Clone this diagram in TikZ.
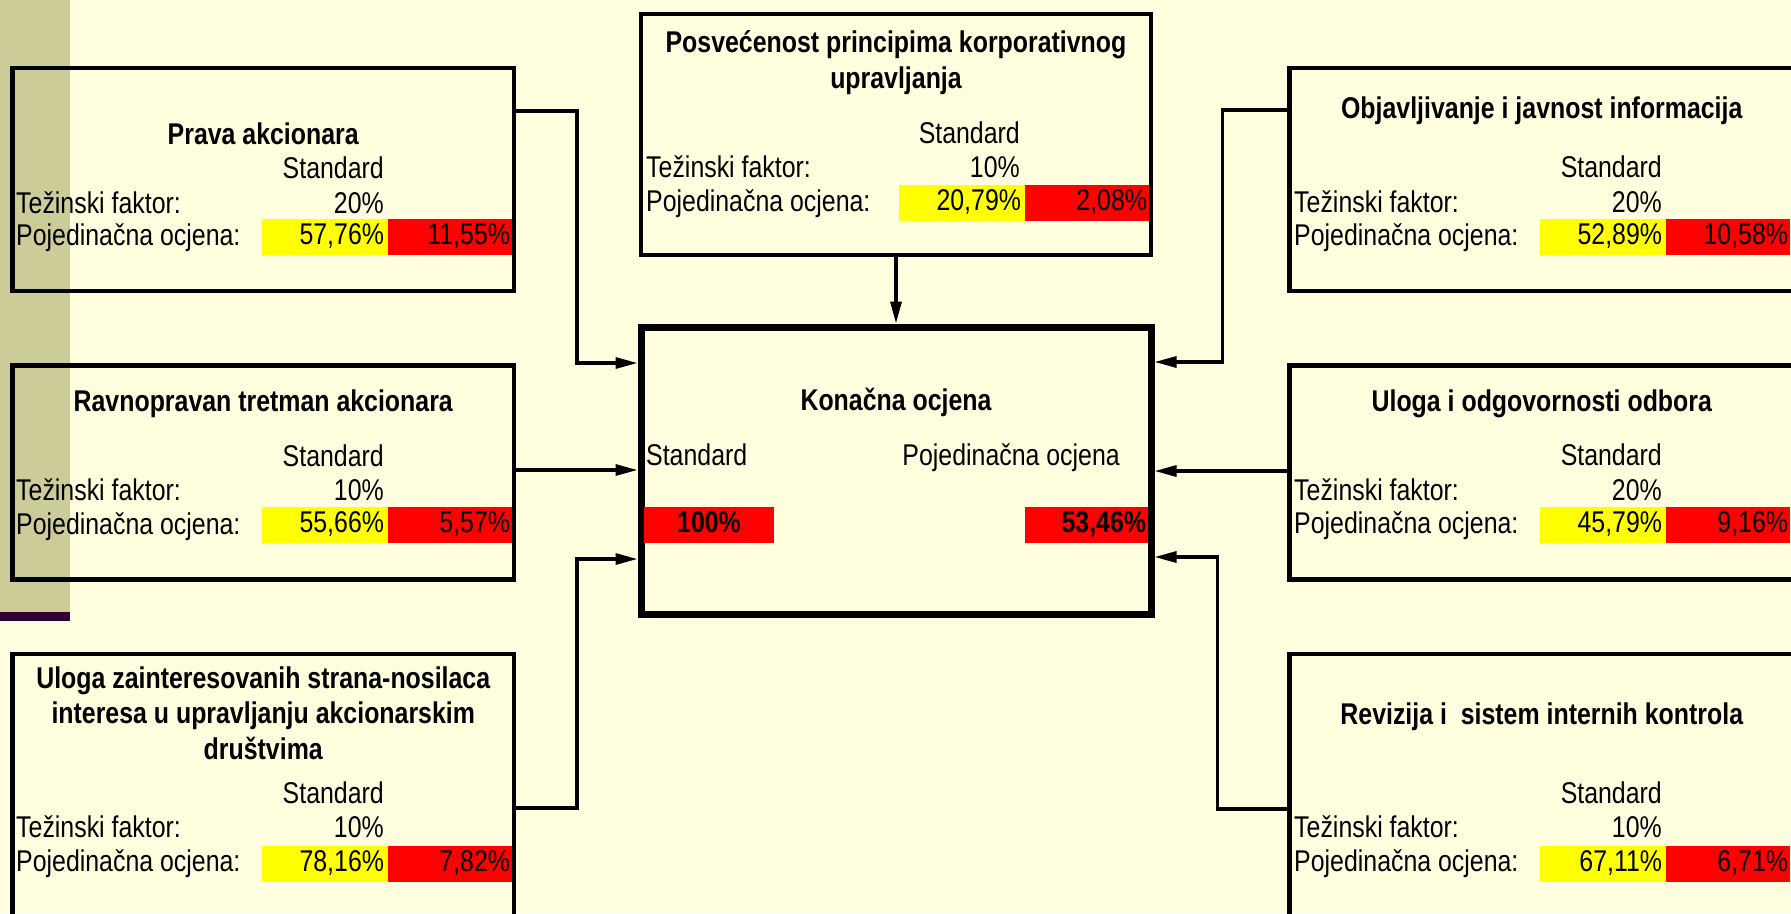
\documentclass[tikz,border=0pt]{standalone}
\usepackage{fontspec}
\setmainfont{Liberation Sans}[FakeStretch=0.83]
\definecolor{slidecream}{RGB}{255,255,224}
\definecolor{stripolive}{RGB}{204,204,153}
\definecolor{stripplum}{RGB}{51,0,51}
\definecolor{cellyellow}{RGB}{255,255,0}
\definecolor{cellred}{RGB}{255,0,0}
\usetikzlibrary{arrows.meta, positioning}

\begin{document}
\begin{tikzpicture}[
    x=1pt, y=-1pt,
    every node/.style={font=\fontsize{30}{35.5}\selectfont, inner sep=0pt},
    panel/.style={rectangle, draw, line width=4.5pt, minimum width=501.5pt},
    final/.style={rectangle, draw, line width=7pt, minimum width=510pt, minimum height=287.5pt},
    heading/.style={anchor=base, align=center, font=\fontsize{30}{35.5}\selectfont\bfseries},
    rowtext/.style={anchor=base west},
    num/.style={anchor=base east},
    yellowcell/.style={fill=cellyellow, anchor=north west, outer sep=0pt, minimum height=36pt, text width=118pt, inner xsep=4pt, align=right, text height=22pt, text depth=7pt},
    redcell/.style={yellowcell, fill=cellred, text width=120pt, inner xsep=2pt},
    arrow/.style={-{Triangle[length=22pt, width=11pt]}, line width=3.2pt}
]
    \useasboundingbox (0,0) rectangle (1791,913);
    \clip (0,0) rectangle (1791,913);

    % Slide background
    \fill[slidecream] (0,0) rectangle (1791,913);
    \fill[stripolive] (0,0) rectangle (70,612);
    \fill[stripplum] (0,612) rectangle (70,621);

    % Prava akcionara
    \node[panel, minimum height=223pt] (prava) at (263.25,179.5) {};
    \node[heading] (pravatitle) at (prava.north |- 0,144) {Prava akcionara};
    \node[num] (pravastd) at (384,178) {Standard};
    \node[rowtext] (pravaw) at (16,213) {Težinski faktor:};
    \node[num] (pravawv) at (384,213) {20\%};
    \node[rowtext] (pravap) at (16,245) {Pojedinačna ocjena:};
    \node[yellowcell] (pravay) at (262,219) {57,76\%};
    \node[redcell] (pravar) at (388,219) {11,55\%};

    % Ravnopravan tretman akcionara
    \node[panel, minimum height=214pt] (ravno) at (263.25,472.5) {};
    \node[heading] (ravnotitle) at (ravno.north |- 0,411.5) {Ravnopravan tretman akcionara};
    \node[num] (ravnostd) at (384,466.5) {Standard};
    \node[rowtext] (ravnow) at (16,500.5) {Težinski faktor:};
    \node[num] (ravnowv) at (384,500.5) {10\%};
    \node[rowtext] (ravnop) at (16,534) {Pojedinačna ocjena:};
    \node[yellowcell] (ravnoy) at (262,507) {55,66\%};
    \node[redcell] (ravnor) at (388,507) {5,57\%};

    % Uloga zainteresovanih strana (base = last line)
    \node[panel, minimum height=306pt] (uloga) at (263.25,807) {};
    \node[heading] (ulogatitle) at (uloga.north |- 0,759) {Uloga zainteresovanih strana-nosilaca\\interesa u upravljanju akcionarskim\\društvima};
    \node[num] (ulogastd) at (384,803) {Standard};
    \node[rowtext] (ulogaw) at (16,837) {Težinski faktor:};
    \node[num] (ulogawv) at (384,837) {10\%};
    \node[rowtext] (ulogap) at (16,871.5) {Pojedinačna ocjena:};
    \node[yellowcell] (ulogay) at (262,846) {78,16\%};
    \node[redcell] (ulogar) at (388,846) {7,82\%};

    % Posvecenost principima (base = last line)
    \node[panel, minimum width=510pt, minimum height=241pt] (posv) at (896,134.5) {};
    \node[heading] (posvtitle) at (posv.north |- 0,88) {Posvećenost principima korporativnog\\upravljanja};
    \node[num] (posvstd) at (1020,143) {Standard};
    \node[rowtext] (posvw) at (646,177) {Težinski faktor:};
    \node[num] (posvwv) at (1020,177) {10\%};
    \node[rowtext] (posvp) at (646,211) {Pojedinačna ocjena:};
    \node[yellowcell] (posvy) at (899,185) {20,79\%};
    \node[redcell] (posvr) at (1025,185) {2,08\%};

    % Konacna ocjena
    \node[final] (konacna) at (896,470.75) {};
    \node[heading] (konacnatitle) at (konacna.north |- 0,410) {Konačna ocjena};
    \node[rowtext] (konacnastd) at (646,465) {Standard};
    \node[num] (konacnap) at (1120,465) {Pojedinačna ocjena};
    \node[redcell, text width=126pt, align=center, font=\fontsize{30}{35.5}\selectfont\bfseries] (konacnas) at (644,507) {100\%};
    \node[redcell, text width=119pt, font=\fontsize{30}{35.5}\selectfont\bfseries] (konacnar) at (1025,507) {53,46\%};

    % Objavljivanje i javnost informacija
    \node[panel, minimum width=504.5pt, minimum height=223pt] (objav) at (1541.75,179.5) {};
    \node[heading] (objavtitle) at (objav.north |- 0,118) {Objavljivanje i javnost informacija};
    \node[num] (objavstd) at (1662,177) {Standard};
    \node[rowtext] (objavw) at (1294,212) {Težinski faktor:};
    \node[num] (objavwv) at (1662,212) {20\%};
    \node[rowtext] (objavp) at (1294,245) {Pojedinačna ocjena:};
    \node[yellowcell] (objavy) at (1540,219) {52,89\%};
    \node[redcell] (objavr) at (1666,219) {10,58\%};

    % Uloga i odgovornosti odbora
    \node[panel, minimum width=504.5pt, minimum height=214pt] (odbor) at (1541.75,472.5) {};
    \node[heading] (odbortitle) at (odbor.north |- 0,411) {Uloga i odgovornosti odbora};
    \node[num] (odborstd) at (1662,465) {Standard};
    \node[rowtext] (odborw) at (1294,500) {Težinski faktor:};
    \node[num] (odborwv) at (1662,500) {20\%};
    \node[rowtext] (odborp) at (1294,533) {Pojedinačna ocjena:};
    \node[yellowcell] (odbory) at (1540,507) {45,79\%};
    \node[redcell] (odborr) at (1666,507) {9,16\%};

    % Revizija i sistem internih kontrola
    \node[panel, minimum width=504.5pt, minimum height=306pt] (reviz) at (1541.75,807) {};
    \node[heading] (reviztitle) at (reviz.north |- 0,724) {Revizija i~ sistem internih kontrola};
    \node[num] (revizstd) at (1662,803) {Standard};
    \node[rowtext] (revizw) at (1294,837) {Težinski faktor:};
    \node[num] (revizwv) at (1662,837) {10\%};
    \node[rowtext] (revizp) at (1294,871.5) {Pojedinačna ocjena:};
    \node[yellowcell] (revizy) at (1540,846) {67,11\%};
    \node[redcell] (revizr) at (1666,846) {6,71\%};

    % Arrows
    \draw[arrow] (prava.east |- 0,111) -| (577,363) -- (konacna.west |- 0,363);
    \draw[arrow] (ravno.east |- 0,470) -- (konacna.west |- 0,470);
    \draw[arrow] (uloga.east |- 0,808) -| (577,559) -- (konacna.west |- 0,559);
    \draw[arrow] (posv.south) -- (konacna.north);
    \draw[arrow] (objav.west |- 0,110) -| (1222.5,362) -- (konacna.east |- 0,362);
    \draw[arrow] (odbor.west |- 0,471) -- (konacna.east |- 0,471);
    \draw[arrow] (reviz.west |- 0,809) -| (1217.5,557) -- (konacna.east |- 0,557);

\end{tikzpicture}
\end{document}
